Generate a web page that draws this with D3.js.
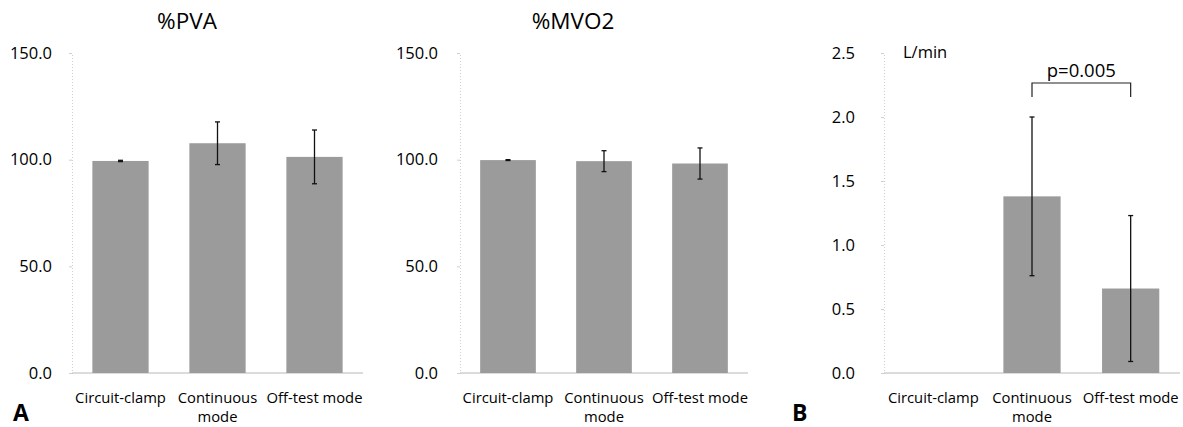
<!DOCTYPE html>
<html>
<head>
<meta charset="utf-8">
<script src="https://cdn.jsdelivr.net/npm/d3@7"></script>
<style>
  body { margin: 0; background: #fff; }
  svg text { font-family: "Open Sans", "Noto Sans", sans-serif; fill: #000; }
</style>
</head>
<body>
<div class="chart"></div>
<script>
var svgWidth = 1183;
var svgHeight = 427;

// Data
var categories = ["Circuit-clamp", "Continuous mode", "Off-test mode"];
var categoryLines = [["Circuit-clamp"], ["Continuous", "mode"], ["Off-test mode"]];

var pvaMeans = [99.4, 107.7, 101.3];
var pvaErrors = [0.3, 10.0, 12.6];

var mvo2Means = [99.8, 99.3, 98.2];
var mvo2Errors = [0.2, 4.9, 7.3];

var flowMeans = [0, 1.38, 0.66];
var flowErrors = [0, 0.62, 0.57];

var percentTicks = [0, 50, 100, 150];
var flowTicks = [0, 0.5, 1.0, 1.5, 2.0, 2.5];

var svg = d3.select(".chart")
  .append("svg")
  .attr("width", svgWidth)
  .attr("height", svgHeight);

var plotTop = 53, plotBottom = 373;

function drawPanel(opts) {
  var x = d3.scaleBand()
    .domain(categories)
    .range([opts.left, opts.right])
    .paddingInner(0.42)
    .paddingOuter(0.21);

  var y = d3.scaleLinear()
    .domain([0, opts.max])
    .range([plotBottom, plotTop]);

  var g = svg.append("g");

  // y axis: faint dotted line with tiny ticks
  var yAxis = d3.axisLeft(y)
    .tickValues(opts.ticks)
    .tickFormat(d3.format(".1f"))
    .tickSize(3)
    .tickPadding(opts.labelGap);

  var ya = g.append("g")
    .attr("transform", `translate(${opts.left}, 0)`)
    .call(yAxis);
  ya.select(".domain")
    .attr("stroke", "#cfcfcf")
    .attr("stroke-dasharray", "1,2");
  ya.selectAll(".tick line").attr("stroke", "#cfcfcf");
  ya.selectAll(".tick text")
    .attr("font-size", 16.5)
    .attr("font-family", "Open Sans, sans-serif")
    .attr("fill", "#000");

  // baseline
  g.append("line")
    .attr("x1", opts.left)
    .attr("x2", opts.right)
    .attr("y1", y(0))
    .attr("y2", y(0))
    .attr("stroke", "#b8b8b8")
    .attr("stroke-width", 1);

  var data = categories.map(function(c, i) {
    return { cat: c, mean: opts.means[i], err: opts.errors[i], lines: categoryLines[i] };
  });

  // bars
  g.selectAll(".bar")
    .data(data.filter(d => d.mean > 0))
    .enter()
    .append("rect")
    .attr("x", d => x(d.cat))
    .attr("width", x.bandwidth())
    .attr("y", d => y(d.mean))
    .attr("height", d => y(0) - y(d.mean))
    .attr("fill", "#9b9b9b");

  // error bars
  var eb = g.selectAll(".err")
    .data(data.filter(d => d.mean > 0))
    .enter()
    .append("g")
    .attr("stroke", "#111")
    .attr("stroke-width", 1.3);
  eb.append("line")
    .attr("x1", d => x(d.cat) + x.bandwidth() / 2)
    .attr("x2", d => x(d.cat) + x.bandwidth() / 2)
    .attr("y1", d => y(d.mean + d.err))
    .attr("y2", d => y(d.mean - d.err));
  [1, -1].forEach(function(s) {
    eb.append("line")
      .attr("x1", d => x(d.cat) + x.bandwidth() / 2 - 2.5)
      .attr("x2", d => x(d.cat) + x.bandwidth() / 2 + 2.5)
      .attr("y1", d => y(d.mean + s * d.err))
      .attr("y2", d => y(d.mean + s * d.err));
  });

  // category labels
  var lab = g.selectAll(".cat")
    .data(data)
    .enter()
    .append("text")
    .attr("text-anchor", "middle")
    .attr("font-size", 14.8)
    .attr("transform", d => `translate(${x(d.cat) + x.bandwidth() / 2}, 403)`);
  lab.selectAll("tspan")
    .data(d => d.lines)
    .enter()
    .append("tspan")
    .attr("x", 0)
    .attr("dy", (d, i) => i === 0 ? 0 : 18.5)
    .text(d => d);

  if (opts.title) {
    g.append("text")
      .attr("x", opts.titleX)
      .attr("y", 29)
      .attr("text-anchor", "middle")
      .attr("font-size", 22.5)
      .text(opts.title);
  }

  return { x: x, y: y, g: g, data: data };
}

drawPanel({
  left: 72, right: 363, max: 150, ticks: percentTicks,
  means: pvaMeans, errors: pvaErrors, labelGap: 17,
  title: "%PVA", titleX: 187
});

drawPanel({
  left: 460, right: 748, max: 150, ticks: percentTicks,
  means: mvo2Means, errors: mvo2Errors, labelGap: 19,
  title: "%MVO2", titleX: 573
});

var flow = drawPanel({
  left: 884, right: 1180, max: 2.5, ticks: flowTicks,
  means: flowMeans, errors: flowErrors, labelGap: 26
});

// unit label
flow.g.append("text")
  .attr("x", 903)
  .attr("y", 58)
  .attr("font-size", 16.5)
  .text("L/min");

// significance bracket between continuous and off-test
var cx1 = flow.x(categories[1]) + flow.x.bandwidth() / 2;
var cx2 = flow.x(categories[2]) + flow.x.bandwidth() / 2;
flow.g.append("path")
  .attr("d", `M${cx1},97V83H${cx2}V97`)
  .attr("fill", "none")
  .attr("stroke", "#222")
  .attr("stroke-width", 1.2);
flow.g.append("text")
  .attr("x", (cx1 + cx2) / 2)
  .attr("y", 77)
  .attr("text-anchor", "middle")
  .attr("font-size", 18.5)
  .text("p=0.005");

// panel letters
svg.append("text")
  .attr("x", 13)
  .attr("y", 421)
  .attr("font-size", 23)
  .attr("font-weight", "bold")
  .attr("font-family", "Liberation Sans, Arial, sans-serif")
  .text("A");
svg.append("text")
  .attr("x", 792)
  .attr("y", 421)
  .attr("font-size", 23)
  .attr("font-weight", "bold")
  .attr("font-family", "Liberation Sans, Arial, sans-serif")
  .text("B");
</script>
</body>
</html>
